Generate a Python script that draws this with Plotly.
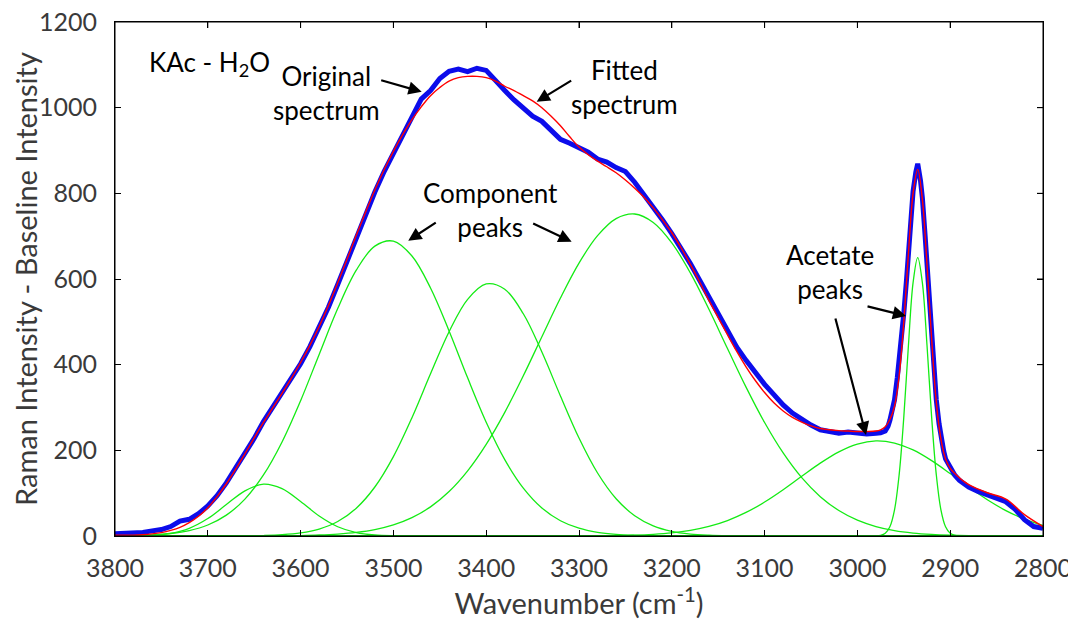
import plotly.graph_objects as go

# ---------------- data ----------------
# component peaks (green)
comp1_x = [3800, 3780, 3760, 3740, 3720, 3700, 3680, 3660, 3640, 3620, 3600, 3580, 3560, 3540, 3520, 3500, 3480, 3440, 2800]
comp1_y = [0.1, 0.4, 1.8, 6.3, 18.0, 40.7, 73.4, 105.5, 121.0, 110.4, 80.4, 46.6, 21.6, 8.0, 2.3, 0.5, 0.1, 0, 0]

comp2_x = [3800, 3780, 3760, 3740, 3720, 3700, 3680, 3660, 3640, 3620, 3600, 3580, 3560, 3540, 3520, 3500,
           3480, 3460, 3440, 3420, 3400, 3380, 3360, 3340, 3320, 3300, 3280, 3260, 3240, 3220, 3200, 3160, 2800]
comp2_y = [0.4, 1.0, 2.5, 5.8, 12.6, 25.7, 48.7, 86.2, 142.5, 219.6, 315.9, 424.0, 531.0, 620.6, 676.7, 688.5,
           653.6, 579.0, 478.7, 369.2, 265.7, 178.4, 111.8, 65.4, 35.7, 18.2, 8.6, 3.8, 1.6, 0.6, 0.2, 0, 0]

comp3_x = [3800, 3700, 3680, 3660, 3640, 3620, 3600, 3580, 3560, 3540, 3520, 3500, 3480, 3460, 3440, 3420, 3400,
           3380, 3360, 3340, 3320, 3300, 3280, 3260, 3240, 3220, 3200, 3180, 3160, 3140, 3120, 3080, 2800]
comp3_y = [0, 0, 0.1, 0.4, 1.1, 2.9, 7.1, 16.2, 33.8, 64.9, 114.4, 185.4, 276.3, 378.6, 477.0, 552.5, 588.5,
           576.2, 518.8, 429.4, 326.9, 228.7, 147.1, 87.0, 47.3, 23.7, 10.9, 4.6, 1.8, 0.6, 0.2, 0, 0]

comp4_x = [3800, 3680, 3660, 3640, 3620, 3600, 3580, 3560, 3540, 3520, 3500, 3480, 3460, 3440, 3420, 3400, 3380,
           3360, 3340, 3320, 3300, 3280, 3260, 3240, 3220, 3200, 3180, 3160, 3140, 3120, 3100, 3080, 3060,
           3040, 3020, 3000, 2980, 2960, 2940, 2920, 2900, 2880, 2860, 2840, 2820, 2800]
comp4_y = [0, 0, 0.1, 0.2, 0.5, 1.1, 2.3, 4.5, 8.4, 15.0, 25.9, 42.8, 68.0, 103.8, 152.1, 213.9, 288.7,
           374.0, 465.3, 555.7, 637.2, 701.2, 741.0, 751.7, 732.0, 684.3, 614.2, 529.2, 437.7, 347.6, 264.9, 193.9, 136.2,
           91.9, 59.5, 37.0, 22.1, 12.6, 6.9, 3.7, 1.9, 0.9, 0.4, 0.2, 0.1, 0]

comp5_x = [3800, 3340, 3320, 3300, 3280, 3260, 3240, 3220, 3200, 3180, 3160, 3140, 3120, 3100, 3080, 3060, 3040,
           3020, 3000, 2980, 2960, 2940, 2920, 2900, 2880, 2860, 2840, 2820, 2800]
comp5_y = [0, 0, 0.1, 0.2, 0.4, 0.9, 1.9, 3.9, 7.3, 13.2, 22.4, 36.1, 55.0, 79.3, 108.1, 139.4, 170.1,
           196.5, 214.7, 222.0, 217.1, 200.9, 175.9, 145.7, 114.2, 84.7, 59.4, 39.5, 24.8]

comp6_x = [3800, 2990, 2980, 2975, 2970, 2965, 2960, 2955, 2950, 2945, 2940, 2935, 2930, 2925, 2920, 2915, 2910,
           2905, 2900, 2895, 2890, 2880, 2800]
comp6_y = [0, 0, 0.3, 1.5, 6.3, 21.6, 61.2, 143.3, 277.6, 445.4, 591.4, 650.0, 591.4, 445.4, 277.6, 143.3, 61.2,
           21.6, 6.3, 1.5, 0.3, 0, 0]

components = [(comp1_x, comp1_y), (comp2_x, comp2_y), (comp3_x, comp3_y),
              (comp4_x, comp4_y), (comp5_x, comp5_y), (comp6_x, comp6_y)]

# fitted spectrum (red)
fit_x = [3800, 3790, 3780, 3770, 3760, 3750, 3740, 3730, 3720, 3710, 3700, 3690, 3680, 3670, 3660, 3650, 3640,
         3630, 3620, 3610, 3600, 3590, 3580, 3570, 3560, 3550, 3540, 3530, 3520, 3510, 3500, 3490, 3480, 3470,
         3460, 3450, 3440, 3430, 3420, 3410, 3400, 3390, 3380, 3370, 3360, 3350, 3340, 3330, 3320, 3310, 3300,
         3290, 3280, 3270, 3260, 3250, 3240, 3230, 3220, 3210, 3200, 3190, 3180, 3170, 3160, 3150, 3140, 3130,
         3120, 3110, 3100, 3090, 3080, 3070, 3060, 3050, 3040, 3030, 3020, 3010, 3000, 2990, 2980, 2975, 2970,
         2965, 2960, 2955, 2950, 2945, 2940, 2935, 2930, 2925, 2920, 2915, 2910, 2905, 2900, 2895, 2890, 2885,
         2880, 2860, 2840, 2820, 2800]
fit_y = [2, 2, 2, 3, 5, 8, 13, 20, 31, 46, 66, 92, 122, 156, 192, 229, 265,
         299, 333, 368, 405, 445, 489, 538, 591, 646, 702, 756, 808, 855, 898, 937, 972, 1002,
         1028, 1047, 1062, 1070, 1073, 1073, 1070, 1062, 1050, 1040, 1028, 1016, 1000, 980, 958, 932, 908,
         890, 875, 862, 848, 831, 812, 791, 766, 738, 708, 673, 634, 593, 550, 510, 470, 431,
         395, 363, 335, 311, 292, 277, 266, 257, 251, 248, 246, 245, 244, 244, 245, 248, 255,
         272, 303, 375, 500, 660, 800, 856, 786, 634, 460, 313, 226, 180, 158, 146, 136, 127,
         120, 101, 86, 50, 22]

# original spectrum (blue)
orig_x = [3800, 3790, 3780, 3770, 3760, 3750, 3740, 3730, 3720, 3710, 3700, 3690, 3680, 3670, 3660, 3650, 3640,
          3630, 3620, 3610, 3600, 3590, 3580, 3570, 3560, 3550, 3540, 3530, 3520, 3510, 3500, 3490, 3480, 3470,
          3460, 3450, 3440, 3430, 3420, 3410, 3400, 3390, 3380, 3370, 3360, 3350, 3340, 3330, 3320, 3310, 3300,
          3290, 3280, 3270, 3260, 3250, 3240, 3230, 3220, 3210, 3200, 3190, 3180, 3170, 3160, 3150, 3140, 3130,
          3120, 3110, 3100, 3090, 3080, 3070, 3060, 3050, 3040, 3030, 3020, 3010, 3000, 2990, 2980, 2975, 2970,
          2967, 2965, 2962, 2960, 2957, 2955, 2952, 2950, 2947, 2945, 2942, 2940, 2937, 2935, 2932, 2930, 2927,
          2925, 2922, 2920, 2917, 2915, 2912, 2910, 2907, 2905, 2900, 2895, 2890, 2885, 2880, 2870, 2860, 2850,
          2840, 2830, 2820, 2810, 2800]
orig_y = [5, 6, 5, 8, 12, 15, 22, 35, 39, 52, 70, 94, 124, 158, 194, 228, 267,
          300, 334, 368, 402, 442, 487, 534, 587, 641, 699, 751, 803, 851, 894, 936, 982, 1020,
          1040, 1068, 1085, 1090, 1084, 1092, 1087, 1062, 1040, 1018, 998, 980, 968, 947, 926, 917, 907,
          896, 880, 873, 860, 851, 826, 797, 769, 738, 706, 672, 636, 597, 557, 518, 479, 441,
          410, 381, 354, 330, 306, 287, 272, 259, 248, 244, 240, 243, 241, 238, 240, 241, 245,
          256, 270, 295, 318, 370, 410, 470, 520, 600, 670, 750, 805, 850, 869, 830, 790, 700,
          638, 545, 465, 370, 318, 262, 228, 198, 180, 158, 142, 130, 122, 114, 104, 96, 90,
          80, 62, 38, 22, 18]

x_ticks = [3800, 3700, 3600, 3500, 3400, 3300, 3200, 3100, 3000, 2900, 2800]
y_ticks = [0, 200, 400, 600, 800, 1000, 1200]

# ---------------- figure ----------------
GREEN = "rgb(20,235,20)"
BLUE = "rgb(12,12,235)"
RED = "rgb(255,0,0)"
FONT = "Lato"
GREY = "#3a3a3a"
TICKLEN = 6
PLOT_W, PLOT_H = 928, 514

fig = go.Figure()
for cx, cy in components:
    fig.add_trace(go.Scatter(x=cx, y=cy, mode="lines", line=dict(color=GREEN, width=1.3, shape="spline"),
                             hoverinfo="skip"))
fig.add_trace(go.Scatter(x=orig_x, y=orig_y, mode="lines", line=dict(color=BLUE, width=5)))
fig.add_trace(go.Scatter(x=fit_x, y=fit_y, mode="lines", line=dict(color=RED, width=1.4, shape="spline")))

axis_common = dict(showline=True, linecolor="black", linewidth=1, mirror="ticks", ticks="inside",
                   ticklen=TICKLEN, tickcolor="black", showgrid=False, zeroline=False, automargin=False,
                   ticklabeloverflow="allow",
                   tickfont=dict(family=FONT, size=25, color=GREY))

fig.update_xaxes(range=[3800, 2800], tickvals=x_ticks, ticklabelstandoff=10,
                 title=dict(text="Wavenumber (cm<sup>-1</sup>)", font=dict(family=FONT, size=29, color=GREY),
                            standoff=10),
                 **axis_common)
fig.update_yaxes(range=[0, 1200], tickvals=y_ticks, ticklabelstandoff=12,
                 title=dict(text="Raman Intensity - Baseline Intensity",
                            font=dict(family=FONT, size=29, color=GREY), standoff=6),
                 **axis_common)

# plot frame with ticks on the top and right edges (MATLAB box style)
fig.add_shape(type="rect", xref="paper", yref="paper", x0=0, y0=0, x1=1, y1=1,
              line=dict(color="black", width=1), fillcolor="rgba(0,0,0,0)", layer="above")
for t in x_ticks[1:-1]:
    fig.add_shape(type="line", xref="x", yref="paper", x0=t, x1=t, y0=1, y1=1 - TICKLEN / PLOT_H,
                  line=dict(color="black", width=1), layer="above")
for t in y_ticks[1:-1]:
    fig.add_shape(type="line", xref="paper", yref="y", x0=1, x1=1 - TICKLEN / PLOT_W, y0=t, y1=t,
                  line=dict(color="black", width=1), layer="above")

TXT = dict(family=FONT, size=26, color="black")
annotations = [
    dict(text="KAc - H<sub>2</sub>O", x=0.1013, y=0.920),
    dict(text="Original<br>spectrum", x=0.2284, y=0.862),
    dict(text="Fitted<br>spectrum", x=0.5485, y=0.8735),
    dict(text="Component<br>peaks", x=0.4041, y=0.634),
    dict(text="Acetate<br>peaks", x=0.7705, y=0.5136),
]
for a in annotations:
    fig.add_annotation(xref="paper", yref="paper", showarrow=False, xanchor="center", yanchor="middle",
                       font=TXT, **a)

arrows = [
    (3469.5, 1037, -42, -12),
    (3345.6, 1014, 36, -22),
    (3484.0, 689.5, 29, -19),
    (3307.9, 687, -40, -19),
    (2947.6, 513.7, -40, -10),
    (2990.7, 235.8, -31, -118),
]
for ax_x, ax_y, dx, dy in arrows:
    fig.add_annotation(x=ax_x, y=ax_y, xref="x", yref="y", ax=dx, ay=dy, text="", showarrow=True,
                       arrowhead=2, arrowsize=1.2, arrowwidth=2.2, arrowcolor="black")

# the page adds an 8px body margin, so the figure is 8px smaller and shifted
fig.update_layout(width=1068, height=613, margin=dict(l=107, r=33, t=14, b=85, autoexpand=False),
                  paper_bgcolor="white", plot_bgcolor="white", showlegend=False,
                  font=dict(family=FONT))

fig.write_html("out.html")
